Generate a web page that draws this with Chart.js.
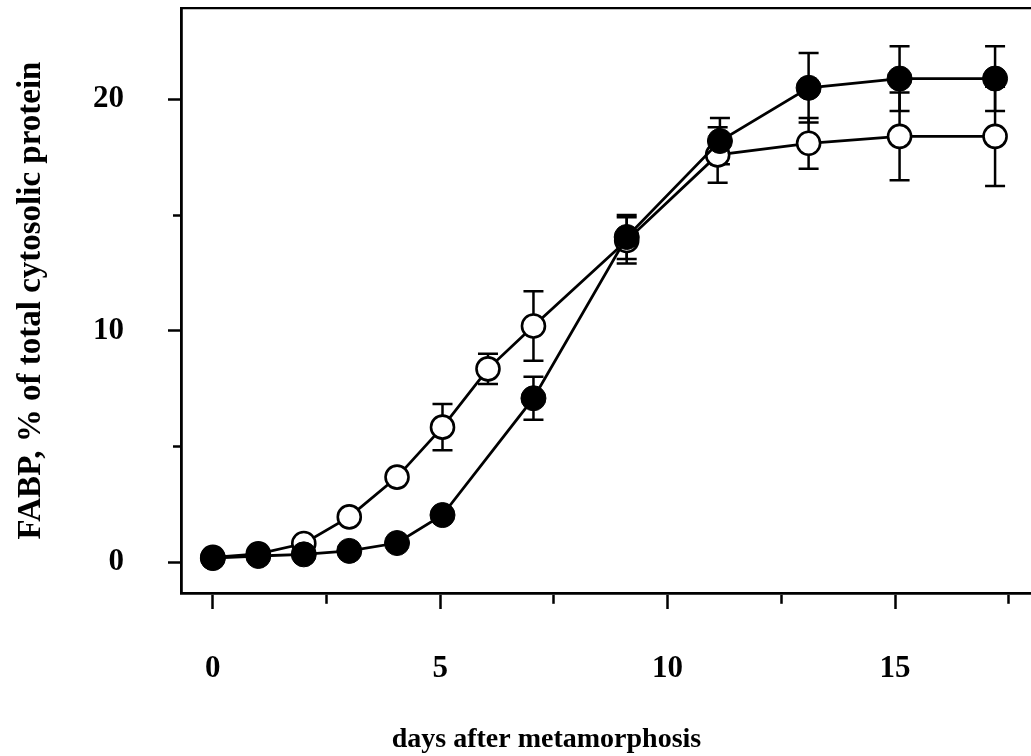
<!DOCTYPE html>
<html>
<head>
<meta charset="utf-8">
<script src="https://cdn.jsdelivr.net/npm/chart.js@4.4.0/dist/chart.umd.min.js"></script>
<style>
  html, body { margin: 0; padding: 0; background: #fff; overflow: hidden; }
  #wrap { width: 1031px; height: 756px; }
</style>
</head>
<body>
<div id="wrap"><canvas id="fabpChart" width="1031" height="756"></canvas></div>
<script>
// points pleins (closed circles)
const daysClosed = [0, 1, 2, 3, 4.05, 5.05, 7.05, 9.1, 11.15, 13.1, 15.1, 17.2];
const fabpClosed = [0.17, 0.26, 0.33, 0.48, 0.82, 2.03, 7.08, 14.05, 18.2, 20.5, 20.9, 20.9];
const errClosed  = [0, 0, 0, 0, 0, 0, 0.93, 0.95, 1.0, 1.5, 1.4, 1.4];

// points vides (open circles)
const daysOpen = [0, 1, 2, 3, 4.05, 5.05, 6.05, 7.05, 9.1, 11.1, 13.1, 15.1, 17.2];
const fabpOpen = [0.2, 0.35, 0.8, 1.95, 3.67, 5.83, 8.35, 10.2, 13.9, 17.6, 18.1, 18.4, 18.4];
const errOpen  = [0, 0, 0, 0, 0, 1.0, 0.65, 1.5, 1.0, 1.2, 1.1, 1.9, 2.15];

// graduations
const xTicks = [0, 5, 10, 15];
const xMinorTicks = [2.5, 7.5, 12.5, 17.5];
const yTicks = [0, 10, 20];
const yMinorTicks = [5, 15];

const serif = '"Liberation Serif", "Times New Roman", serif';
const toPoints = (xs, ys) => xs.map((x, i) => ({ x: x, y: ys[i] }));

// barres d'erreur, dessinees sous les marqueurs
const errorBars = {
  id: 'errorBars',
  beforeDatasetsDraw(chart) {
    const { ctx, scales: { x, y } } = chart;
    ctx.save();
    ctx.strokeStyle = '#000';
    ctx.lineWidth = 2.5;
    chart.data.datasets.forEach(ds => {
      ds.data.forEach((p, i) => {
        const e = ds.errors[i];
        if (!e) return;
        const px = x.getPixelForValue(p.x);
        const top = y.getPixelForValue(p.y + e);
        const bot = y.getPixelForValue(p.y - e);
        ctx.beginPath();
        ctx.moveTo(px, top); ctx.lineTo(px, bot);
        ctx.moveTo(px - 10, top); ctx.lineTo(px + 10, top);
        ctx.moveTo(px - 10, bot); ctx.lineTo(px + 10, bot);
        ctx.stroke();
      });
    });
    ctx.restore();
  }
};

// titre de l'axe x (un peu a gauche du centre, comme l'original)
const xTitle = {
  id: 'xTitle',
  afterDraw(chart) {
    const { ctx, chartArea } = chart;
    ctx.save();
    ctx.font = 'bold 28px ' + serif;
    ctx.fillStyle = '#000';
    ctx.textAlign = 'center';
    ctx.textBaseline = 'middle';
    ctx.fillText('days after metamorphosis',
      chartArea.left + (chartArea.right - chartArea.left) * 0.43, chartArea.bottom + 147);
    ctx.restore();
  }
};

// pas de marge automatique autour des axes
const noPad = s => { s.paddingTop = 0; s.paddingBottom = 0; s.paddingLeft = 0; s.paddingRight = 0; };

const ctx = document.getElementById('fabpChart').getContext('2d');
new Chart(ctx, {
  type: 'line',
  data: {
    datasets: [{
      label: 'closed',
      data: toPoints(daysClosed, fabpClosed),
      errors: errClosed,
      borderColor: '#000',
      borderWidth: 2.8,
      pointRadius: 12.5,
      pointBackgroundColor: '#000',
      pointBorderColor: '#000',
      pointBorderWidth: 1,
      tension: 0,
      clip: false
    }, {
      label: 'open',
      data: toPoints(daysOpen, fabpOpen),
      errors: errOpen,
      borderColor: '#000',
      borderWidth: 2.8,
      pointRadius: 11.5,
      pointBackgroundColor: '#fff',
      pointBorderColor: '#000',
      pointBorderWidth: 2.6,
      tension: 0,
      clip: false
    }]
  },
  options: {
    responsive: false,
    animation: false,
    layout: { padding: 0, autoPadding: false },
    plugins: { legend: { display: false }, tooltip: { enabled: false } },
    scales: {
      x: {
        type: 'linear',
        position: 'bottom',
        min: -0.7,
        max: 17.99,
        afterBuildTicks: s => { s.ticks = xTicks.concat(xMinorTicks).sort((a, b) => a - b).map(v => ({ value: v })); },
        afterFit: s => { s.height = 163; noPad(s); },
        ticks: {
          autoSkip: false,
          maxRotation: 0,
          padding: 41,
          color: '#000',
          font: { family: serif, size: 31, weight: 'bold' },
          callback: v => xTicks.includes(v) ? String(v) : ''
        },
        grid: {
          drawOnChartArea: false,
          tickLength: 16,
          tickWidth: 2.5,
          tickColor: '#000',
          tickBorderDash: c => (c.tick && xMinorTicks.includes(c.tick.value)) ? [9, 50] : []
        },
        border: { display: true, color: '#000', width: 2.8 }
      },
      xTop: {
        type: 'linear',
        position: 'top',
        min: -0.7,
        max: 17.99,
        afterFit: s => { s.height = 8; noPad(s); },
        ticks: { display: false },
        grid: { display: false },
        border: { display: true, color: '#000', width: 2.2 }
      },
      y: {
        type: 'linear',
        position: 'left',
        min: -1.34,
        max: 23.95,
        afterBuildTicks: s => { s.ticks = yTicks.concat(yMinorTicks).sort((a, b) => a - b).map(v => ({ value: v })); },
        afterFit: s => { s.width = 181; noPad(s); },
        ticks: {
          autoSkip: false,
          padding: 44,
          color: '#000',
          font: { family: serif, size: 31, weight: 'bold' },
          callback: v => yTicks.includes(v) ? String(v) : ''
        },
        grid: {
          drawOnChartArea: false,
          tickLength: 13,
          tickWidth: 2.5,
          tickColor: '#000',
          tickBorderDash: c => (c.tick && yMinorTicks.includes(c.tick.value)) ? [0, 5, 30, 0] : []
        },
        border: { display: true, color: '#000', width: 2.8 },
        title: {
          display: true,
          text: 'FABP, % of total cytosolic protein',
          color: '#000',
          font: { family: serif, size: 33, weight: 'bold' },
          padding: { top: 12, bottom: 0 }
        }
      }
    }
  },
  plugins: [errorBars, xTitle]
});
</script>
</body>
</html>
